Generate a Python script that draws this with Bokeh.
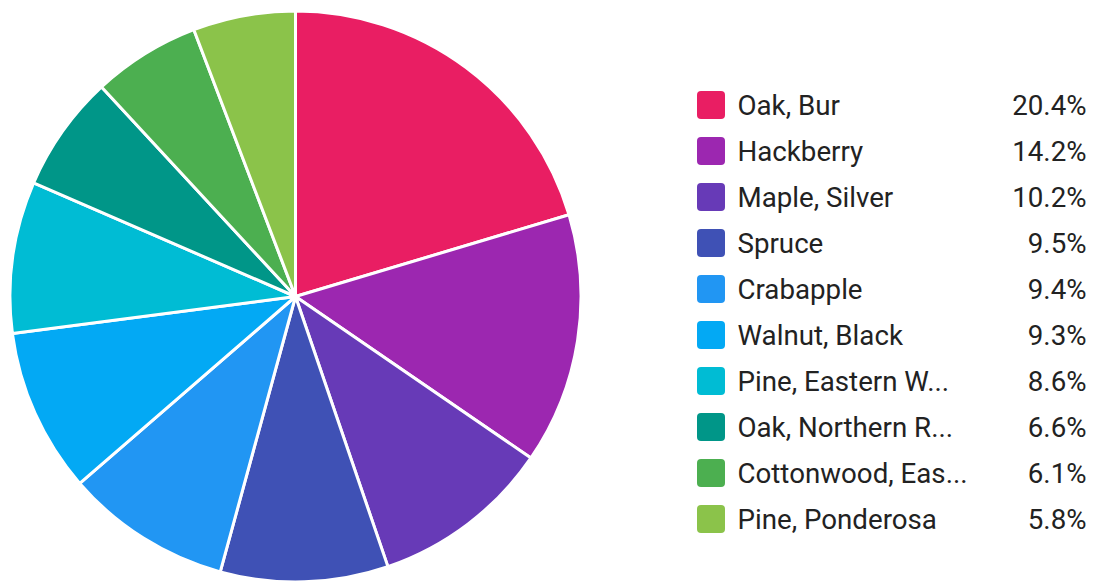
import math
from bokeh.plotting import figure
from bokeh.models import Range1d, ColumnDataSource
from bokeh.core.properties import value
from bokeh.embed import file_html
from bokeh.resources import INLINE

categories = ["Oak, Bur", "Hackberry", "Maple, Silver", "Spruce", "Crabapple",
              "Walnut, Black", "Pine, Eastern W...", "Oak, Northern R...",
              "Cottonwood, Eas...", "Pine, Ponderosa"]
percent = [20.4, 14.2, 10.2, 9.5, 9.4, 9.3, 8.6, 6.6, 6.1, 5.8]
labels = ["20.4%", "14.2%", "10.2%", "9.5%", "9.4%", "9.3%", "8.6%", "6.6%", "6.1%", "5.8%"]
colors = ["#E91E63", "#9C27B0", "#673AB7", "#3F51B5", "#2196F3",
          "#03A9F4", "#00BCD4", "#009688", "#4CAF50", "#8BC34A"]

W, H = 1094, 583

def py(page_y):
    return H - page_y

def px(page_x):
    return page_x

total = sum(percent)
starts, ends = [], []
cum = 0.0
for v in percent:
    starts.append(math.pi / 2 - 2 * math.pi * cum / total)
    cum += v
    ends.append(math.pi / 2 - 2 * math.pi * cum / total)

p = figure(width=W, height=H, output_backend="svg", toolbar_location=None,
           x_range=Range1d(0, W), y_range=Range1d(0, H), min_border=0)
p.axis.visible = False
p.grid.visible = False
p.outline_line_color = None
p.background_fill_color = "white"
p.border_fill_color = "white"

pie = ColumnDataSource(dict(start=starts, end=ends, color=colors))
p.wedge(x=px(295), y=py(296), radius=285.5, radius_units="screen",
        start_angle="start", end_angle="end", direction="clock",
        fill_color="color", line_color="white", line_width=3, source=pie)

row_y = [py(104.5 + i * 46.0) for i in range(len(categories))]
leg = ColumnDataSource(dict(y=row_y, name=categories, lab=labels, color=colors))
p.rect(x=px(710.5), y="y", width=28, height=28, fill_color="color",
       line_color=None, source=leg, border_radius=4)
p.text(x=px(737), y="y", text="name", source=leg, text_font=value("Roboto"),
       text_font_size="27.7px", text_color="#222222", text_baseline="middle",
       text_align="left")
p.text(x=px(1086), y="y", text="lab", source=leg, text_font=value("Roboto"),
       text_font_size="27.7px", text_color="#222222", text_baseline="middle",
       text_align="right")

open("out.html", "w").write(file_html(p, INLINE))
